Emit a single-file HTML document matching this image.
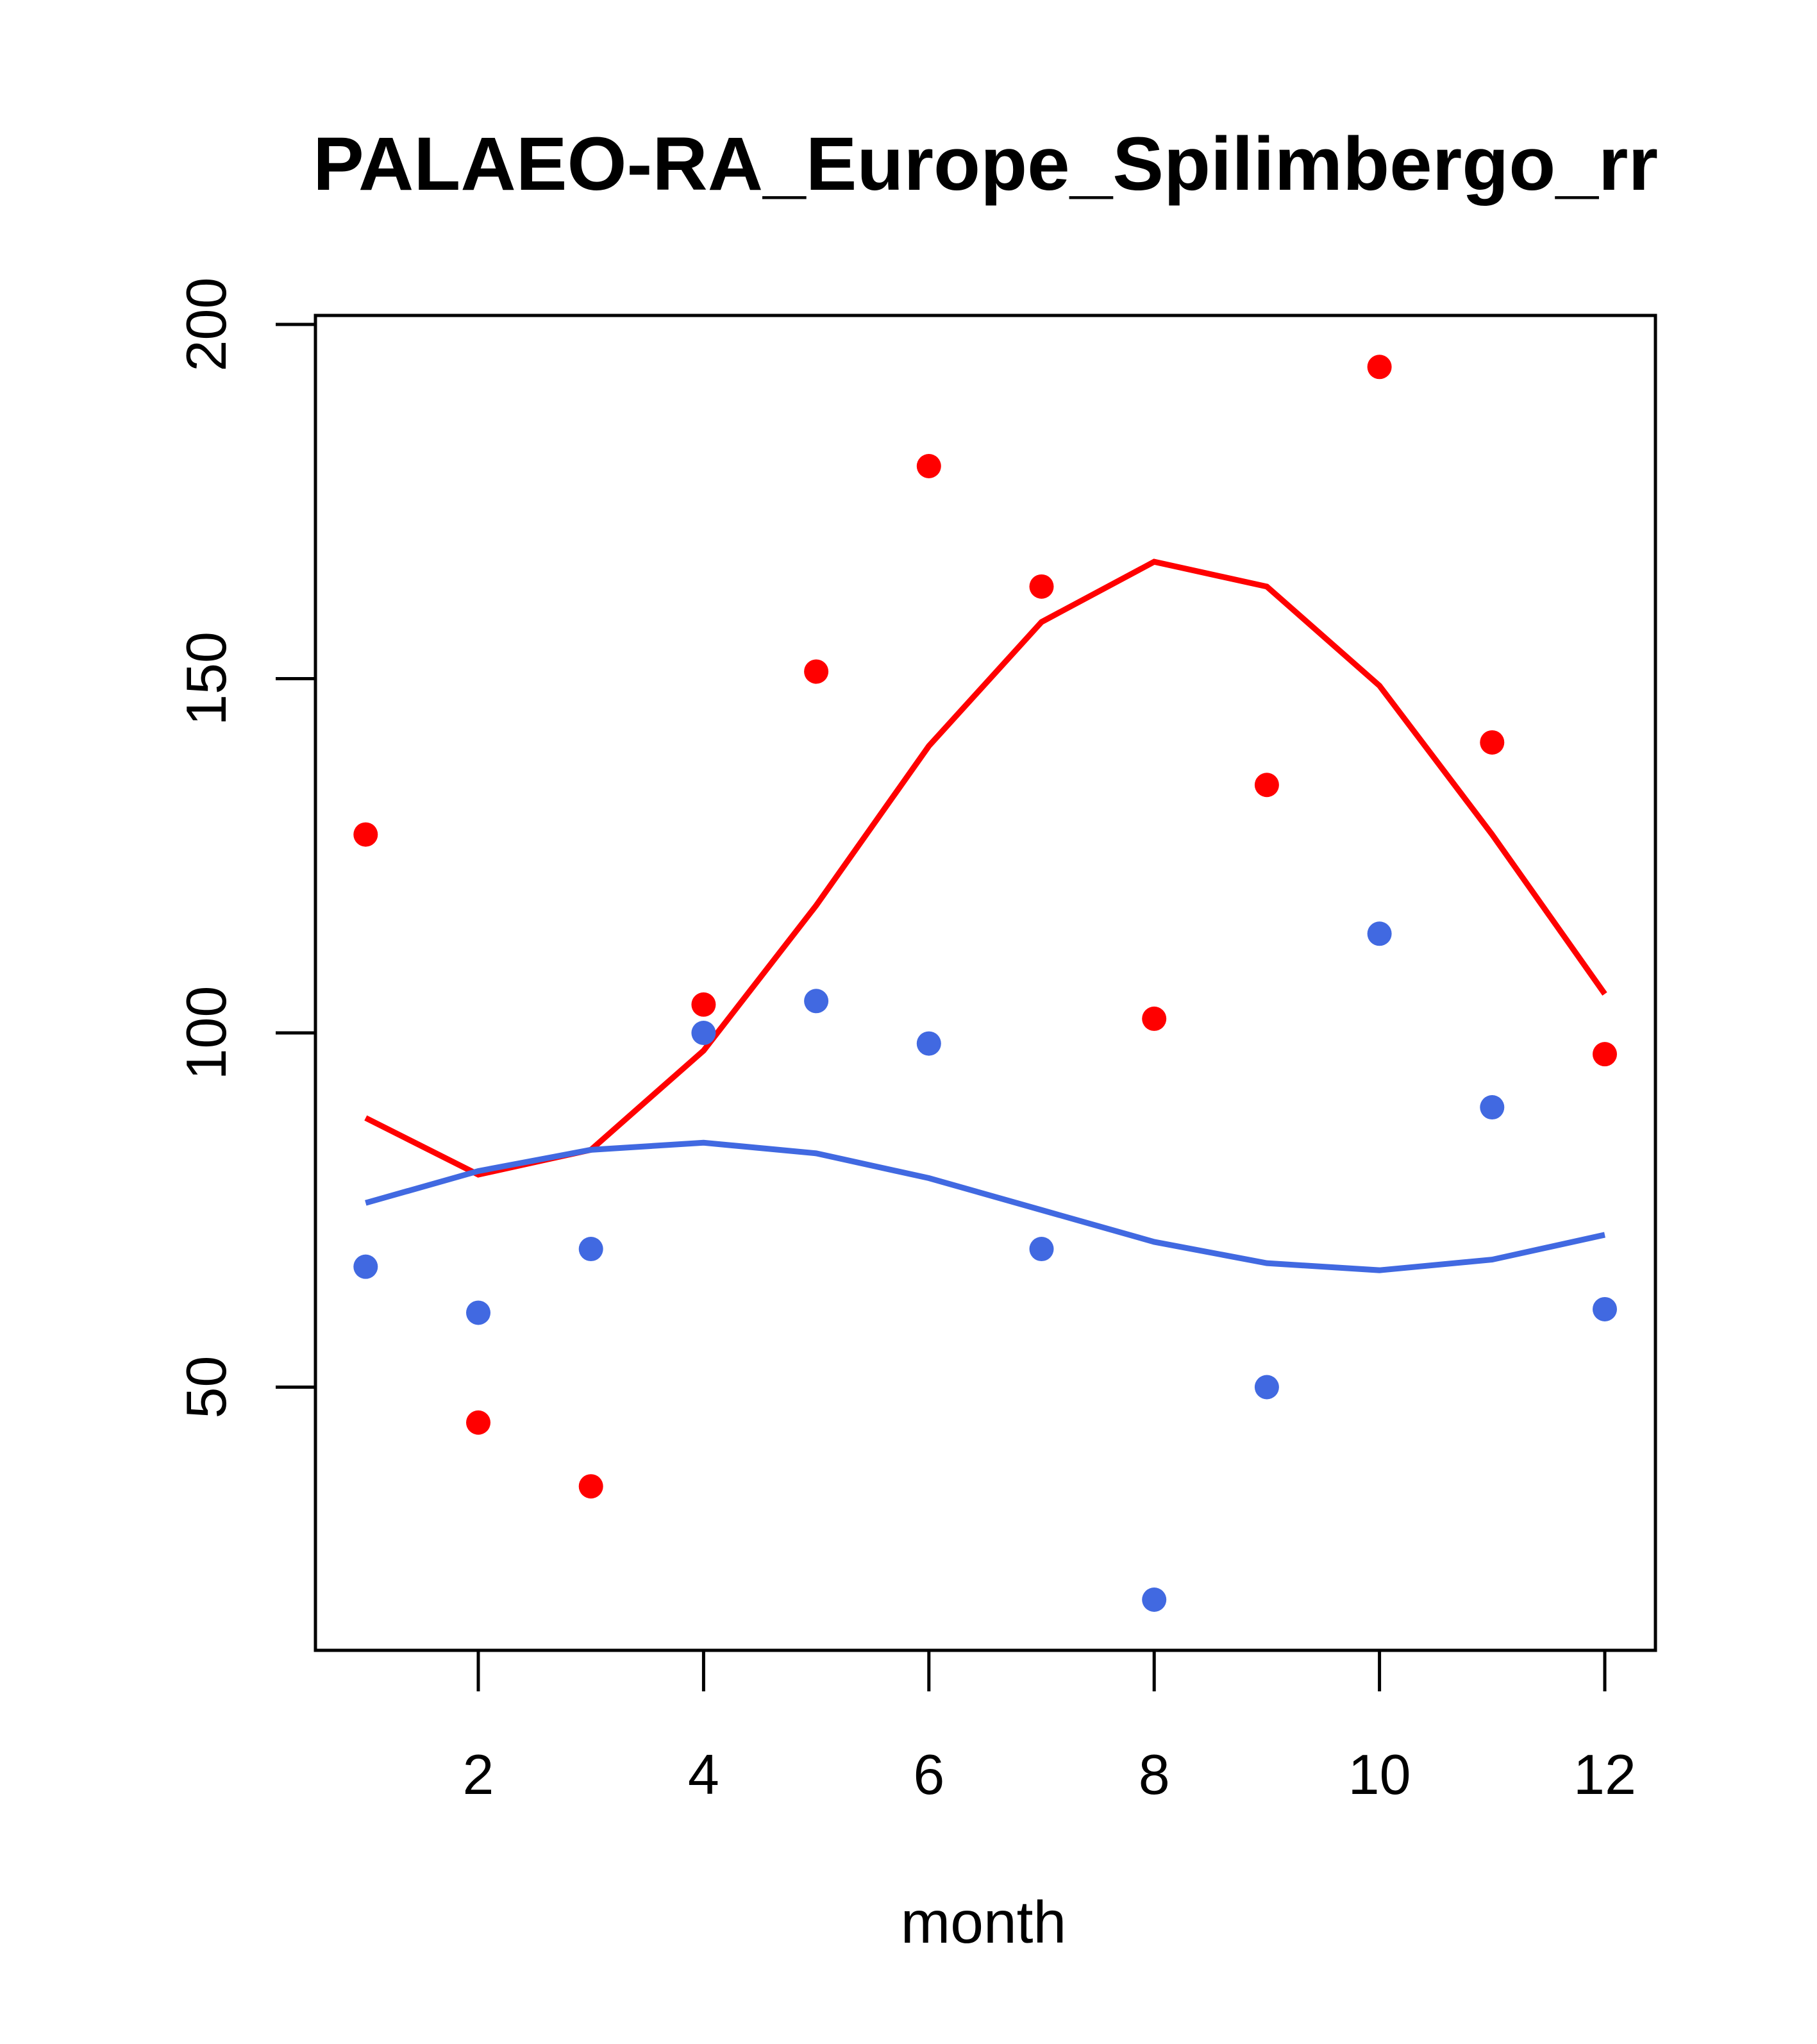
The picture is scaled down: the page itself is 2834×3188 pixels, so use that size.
<!DOCTYPE html>
<html><head><meta charset="utf-8"><style>body{margin:0;background:#fff}svg{display:block}</style></head>
<body>
<svg id="chart" width="2834" height="3188" xmlns="http://www.w3.org/2000/svg" font-family="Liberation Sans, Arial, sans-serif">
<rect width="2834" height="3188" fill="#fff"/>
<text x="1537" y="296" font-size="118" font-weight="bold" text-anchor="middle" textLength="2098" lengthAdjust="spacingAndGlyphs">PALAEO-RA_Europe_Spilimbergo_rr</text>
<rect x="492" y="492" width="2090" height="2082" fill="none" stroke="#000" stroke-width="5"/>
<text x="1534" y="3030" font-size="93" text-anchor="middle">month</text>
<g id="axes"></g>
<g id="marks"></g>
</svg>
<script>
const months=[1,2,3,4,5,6,7,8,9,10,11,12];
const redPoints=[128,45,36,104,151,180,163,102,135,194,141,97];
const redLine=[88,80,83.5,97.5,118,140.5,158,166.5,163,149,128,105.5];
const bluePoints=[67,60.5,69.5,100,104.5,98.5,69.5,20,50,114,89.5,61];
const blueLine=[76,80.5,83.5,84.5,83,79.5,75,70.5,67.5,66.5,68,71.5];
const xTicks=[2,4,6,8,10,12];
const yTicks=[50,100,150,200];
const NS='http://www.w3.org/2000/svg';
const xs=m=>746+(m-2)*175.7;
const ys=v=>506+(200-v)*11.05;
const axes=document.getElementById('axes'),marks=document.getElementById('marks');
function mk(t,a,p){const e=document.createElementNS(NS,t);for(const k in a)e.setAttribute(k,a[k]);p.appendChild(e);return e;}
xTicks.forEach(t=>{
 const l=mk('line',{x1:xs(t),x2:xs(t),y1:2574,y2:2638,stroke:'#000','stroke-width':5},axes);
 
 
 const tx=mk('text',{x:xs(t),y:2798,'font-size':88,'text-anchor':'middle'},axes);tx.textContent=t;
 
 
});
const yl=mk('line',{x1:492,x2:492,y1:ys(200),y2:ys(50),stroke:'#000','stroke-width':5},axes);


yTicks.forEach(t=>{
 const l=mk('line',{x1:430,x2:492,y1:ys(t),y2:ys(t),stroke:'#000','stroke-width':5},axes);
 
 
 const tx=mk('text',{x:0,y:0,'font-size':88,'text-anchor':'middle',transform:`translate(352,${ys(t)}) rotate(-90)`},axes);tx.textContent=t;
 
 
});
function line(vals,c,name){
 const p=mk('polyline',{points:vals.map((v,i)=>xs(months[i])+','+ys(v)).join(' '),fill:'none',stroke:c,'stroke-width':9},marks);
 
 
}
function pts(vals,c,name){
 vals.forEach((v,i)=>{
  const e=mk('circle',{cx:xs(months[i]),cy:ys(v),r:19,fill:c},marks);
  
  
 });
}
line(redLine,'#ff0000','red-line');
line(blueLine,'#4169e1','blue-line');
pts(redPoints,'#ff0000','red-point');
pts(bluePoints,'#4169e1','blue-point');
</script>
</body></html>
